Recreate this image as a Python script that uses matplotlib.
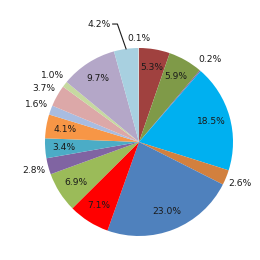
import matplotlib.pyplot as plt
import numpy as np

# slices clockwise from 12 o'clock
values = [5.3, 5.9, 0.2, 18.5, 2.6, 23.0, 7.1, 6.9, 2.8, 3.4, 4.1, 1.6, 3.7, 1.0, 9.7, 4.2, 0.1]
colors = ['#A0413F', '#7F9A48', '#8064A2', '#00B0F0', '#D2803E', '#4F81BD', '#FF0000',
          '#9BBB59', '#8064A2', '#4BACC6', '#F79646', '#A8BCE0', '#DCA8A8', '#C6D9A0',
          '#B4A7C8', '#A8D0E0', '#D9D9D9']
outside = [0.2, 2.6, 2.8, 1.6, 3.7, 1.0, 0.1]

fig = plt.figure(figsize=(2.6, 2.6), dpi=100)
ax = fig.add_axes([0.0285, -0.0523, 1.0123, 1.0123])

wedges, _ = ax.pie(values, colors=colors, startangle=90, counterclock=False,
                   wedgeprops=dict(linewidth=0))
ax.set_xlim(-1.4, 1.4)
ax.set_ylim(-1.4, 1.4)
ax.set_aspect('equal')
ax.axis('off')

txt = dict(fontsize=6.6, color='#1a1a1a', ha='center', va='center')
for w, v in zip(wedges, values):
    ang = np.deg2rad((w.theta1 + w.theta2) / 2)
    lab = '%.1f%%' % v
    if v == 4.2:
        # label pulled out with a leader line
        x0, y0 = np.cos(ang), np.sin(ang)
        ax.plot([-0.28, -0.23, x0], [1.255, 1.255, y0], color='#1a1a1a', lw=0.8)
        ax.text(-0.30, 1.255, lab, fontsize=6.6, color='#1a1a1a', ha='right', va='center')
    elif v in outside:
        r = 1.1 if v == 0.1 else 1.16
        ax.text(r * np.cos(ang), r * np.sin(ang), lab, **txt)
    else:
        ax.text(0.8 * np.cos(ang), 0.8 * np.sin(ang), lab, **txt)

fig.savefig('out.png', dpi=100)
